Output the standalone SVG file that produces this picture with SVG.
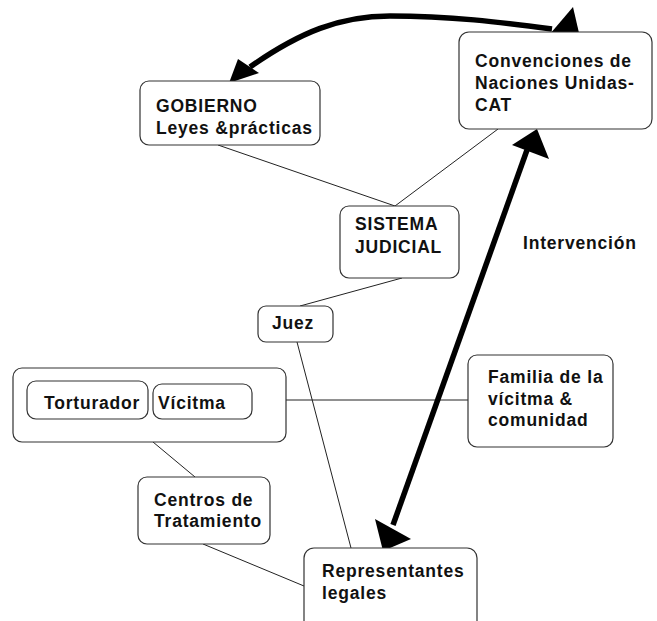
<svg xmlns="http://www.w3.org/2000/svg" width="657" height="621" viewBox="0 0 657 621">
<style>
.box{fill:#fff;stroke:#333;stroke-width:1.2}
.t{font-family:"Liberation Sans",Arial,sans-serif;font-weight:bold;font-size:17.5px;letter-spacing:0.8px;fill:#111}
.ln{stroke:#222;stroke-width:1;fill:none}
.thick{stroke:#000;stroke-width:5.5;fill:none}
.head{fill:#000}
</style>
<rect width="657" height="621" fill="#fff"/>
<g id="connectors">
<line class="ln" x1="218" y1="145" x2="395" y2="206"/>
<line class="ln" x1="498" y1="129" x2="395" y2="206"/>
<line class="ln" x1="402" y1="278" x2="300" y2="306"/>
<line class="ln" x1="297" y1="342" x2="351" y2="548"/>
<line class="ln" x1="286" y1="400" x2="468" y2="400"/>
<line class="ln" x1="148" y1="401" x2="153" y2="401"/>
<line class="ln" x1="153" y1="442" x2="195" y2="477"/>
<line class="ln" x1="203" y1="544" x2="304" y2="586"/>
<path class="thick" d="M250,67 C300,32 340,16 390,16 C450,16 500,22 552,29"/>
<polygon class="head" points="229,83 238,59 259,73"/>
<polygon class="head" points="573,7 579,33 544,41"/>
<line class="thick" x1="527" y1="150" x2="393" y2="525"/>
<polygon class="head" points="537,129 512,145 549,159"/>
<polygon class="head" points="383,551 375,519 411,539"/>
</g>
<g id="gobierno">
<rect class="box" x="140" y="81" width="180" height="64" rx="9"/>
<text class="t" x="156" y="112">GOBIERNO</text>
<text class="t" x="156" y="134">Leyes &amp;prácticas</text>
</g>
<g id="convenciones">
<rect class="box" x="459" y="32" width="193" height="97" rx="10"/>
<text class="t" x="475" y="67">Convenciones de</text>
<text class="t" x="475" y="89">Naciones Unidas-</text>
<text class="t" x="475" y="111">CAT</text>
</g>
<g id="sistema">
<rect class="box" x="340" y="206" width="119" height="72" rx="9"/>
<text class="t" x="355" y="230">SISTEMA</text>
<text class="t" x="355" y="253">JUDICIAL</text>
</g>
<g id="juez">
<rect class="box" x="258" y="306" width="75" height="36" rx="8"/>
<text class="t" x="272" y="329">Juez</text>
</g>
<g id="intervencion">
<text class="t" x="523" y="249">Intervención</text>
</g>
<g id="grupo">
<rect class="box" x="13" y="368" width="273" height="74" rx="9"/>
</g>
<g id="torturador">
<rect class="box" x="27" y="381" width="121" height="38" rx="9"/>
<text class="t" x="44" y="409">Torturador</text>
</g>
<g id="victima">
<rect class="box" x="153" y="384" width="99" height="35" rx="9"/>
<text class="t" x="158" y="409">Vícitma</text>
</g>
<g id="familia">
<rect class="box" x="468" y="355" width="145" height="92" rx="9"/>
<text class="t" x="488" y="383">Familia de la</text>
<text class="t" x="488" y="405">vícitma &amp;</text>
<text class="t" x="488" y="426">comunidad</text>
</g>
<g id="centros">
<rect class="box" x="138" y="477" width="132" height="67" rx="9"/>
<text class="t" x="154" y="506">Centros de</text>
<text class="t" x="154" y="527">Tratamiento</text>
</g>
<g id="representantes">
<rect class="box" x="304" y="548" width="173" height="85" rx="10"/>
<text class="t" x="322" y="577">Representantes</text>
<text class="t" x="322" y="599">legales</text>
</g>
</svg>
